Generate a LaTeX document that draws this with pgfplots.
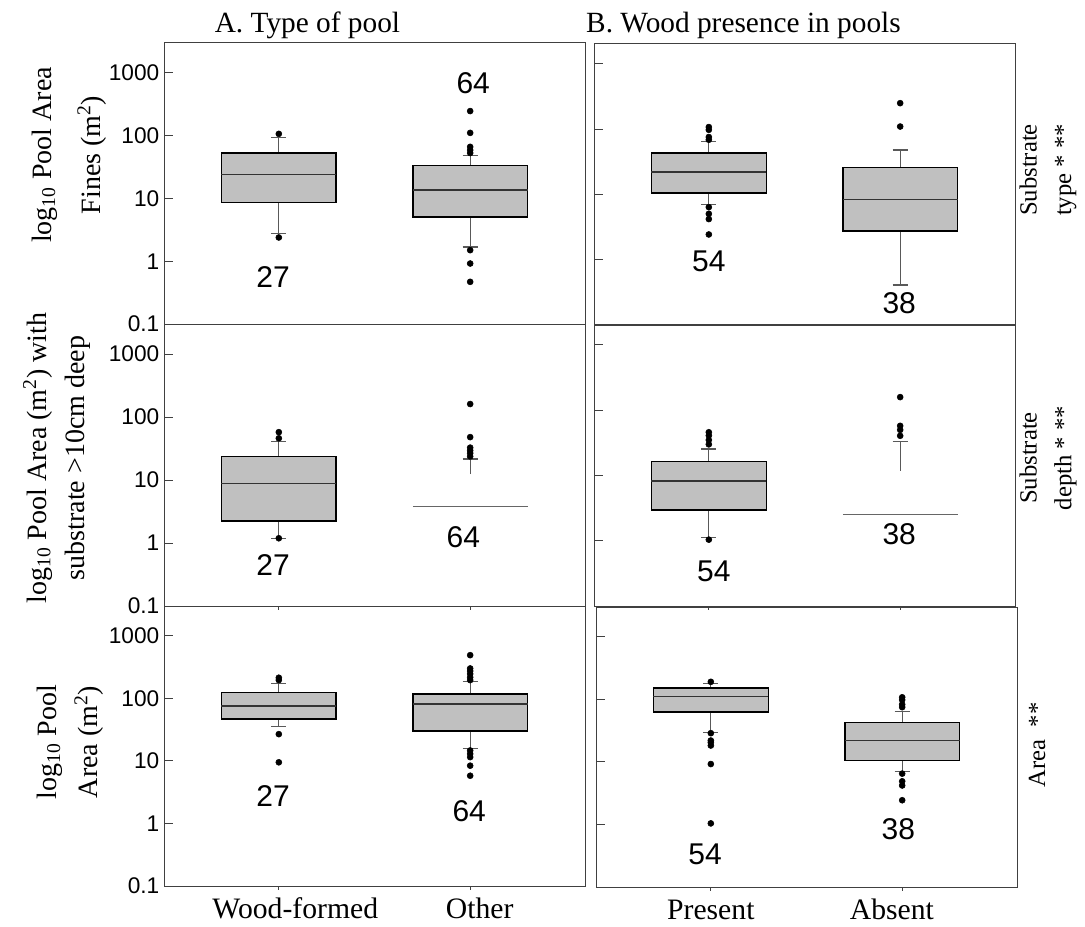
\documentclass[border=0pt]{standalone}
\usepackage{pgfplots}
\pgfplotsset{compat=1.18}
\usepgfplotslibrary{statistics}
\usepackage{fontspec}
\setmainfont{Liberation Serif}
\newfontfamily\sansf{Liberation Sans}
\definecolor{boxgray}{RGB}{192,192,192}
\pgfplotsset{
 every axis/.append style={
  scale only axis, width=315.75pt,
  ymin=0.1, ymax=3000, xmin=0.4, xmax=2.6,
  ytick={0.1,1,10,100,1000},
  yminorticks=false,
  tick align=inside, major tick length=6.75pt,
  ytick pos=left, xtick=\empty,
  axis line style={black!75, line width=0.75pt},
  every tick/.style={black!75, line width=0.75pt},
  clip=false,
 },
 boxplot/draw direction=y,
 boxplot/box extend=0.6,
 boxplot/whisker extend=0.08,
 boxplot/every box/.style={draw=black, fill=boxgray, line width=1.1pt},
 boxplot/every median/.style={draw=black!80, line width=1pt},
 boxplot/every whisker/.style={draw=black!65, line width=0.9pt},
 myleft/.style={yticklabels={0.1,1,10,100,1000}, yticklabel style={font=\sansf\fontsize{17}{19}\selectfont}},
 myright/.style={yticklabels={}},
 myout/.style={only marks, mark=*, mark size=2.25pt, black},
}
\tikzset{
 nlab/.style={font=\sansf\fontsize{22.5}{27}\selectfont},
 xlab/.style={anchor=base, font=\fontsize{22.25}{26}\selectfont},
 ylab/.style={rotate=90, align=center, font=\fontsize{21}{25}\selectfont},
 rlab/.style={rotate=90, align=center, font=\fontsize{18.5}{26}\selectfont},
 xt/.style={black!75, line width=0.75pt},
}
\begin{document}
\begin{tikzpicture}
\useasboundingbox (0,0) rectangle (813.75pt,694.5pt);
% ---------- Top left: fines, type of pool
\begin{axis}[ymode=log, myleft, at={(123pt,451.5pt)}, anchor=south west, height=210.75pt]
\addplot[boxplot prepared={draw position=1, lower whisker=2.77, lower quartile=8.6, median=24.2, upper quartile=53.4, upper whisker=94}] coordinates {};
\addplot[boxplot prepared={draw position=2, lower whisker=1.69, lower quartile=5.09, median=13.7, upper quartile=33.6, upper whisker=49}] coordinates {};
\addplot[myout] coordinates {(1,107) (1,2.39)};
\addplot[myout] coordinates {(2,247) (2,111) (2,66.5) (2,59) (2,53) (2,1.5) (2,0.92) (2,0.47)};
\node[nlab] at (axis cs:0.97,0.562) {27};
\node[nlab] at (axis cs:2.016,698) {64};
\end{axis}
% ---------- Top right: fines, wood presence
\begin{axis}[ymode=log, myright, at={(445.5pt,450.75pt)}, anchor=south west, height=210.75pt, ymax=2025]
\addplot[boxplot prepared={draw position=1, lower whisker=7.0, lower quartile=10.5, median=22, upper quartile=43, upper whisker=65}] coordinates {};
\addplot[boxplot prepared={draw position=2, lower whisker=0.41, lower quartile=2.75, median=8.3, upper quartile=25.9, upper whisker=48}] coordinates {};
\addplot[myout] coordinates {(1,108) (1,98) (1,76) (1,69) (1,6.4) (1,5.06) (1,4.2) (1,2.44)};
\addplot[myout] coordinates {(2,110) (2,251)};
\node[nlab] at (axis cs:1.0,0.94) {54};
\node[nlab] at (axis cs:1.995,0.217) {38};
\end{axis}
% ---------- Middle left: depth, type of pool
\begin{axis}[ymode=log, myleft, at={(123pt,240pt)}, anchor=south west, height=211.5pt]
\addplot[boxplot prepared={draw position=1, lower whisker=1.19, lower quartile=2.24, median=8.8, upper quartile=23.7, upper whisker=41}] coordinates {};
\addplot[black!60, line width=0.9pt] coordinates {(1.7,3.79) (2.3,3.79)};
\addplot[black!65, line width=0.9pt] coordinates {(2,12.4) (2,21.5)};
\addplot[black!65, line width=0.9pt] coordinates {(1.96,21.5) (2.04,21.5)};
\addplot[myout] coordinates {(1,57.5) (1,46) (1,1.19)};
\addplot[myout] coordinates {(2,161) (2,48) (2,32.7) (2,29.4) (2,26.6) (2,23.7)};
\node[nlab] at (axis cs:0.97,0.44) {27};
\node[nlab] at (axis cs:1.964,1.25) {64};
\draw[xt] (axis cs:1,0.1) -- ++(0pt,-3pt);
\draw[xt] (axis cs:2,0.1) -- ++(0pt,-3pt);
\end{axis}
% ---------- Middle right: depth, wood presence
\begin{axis}[ymode=log, myright, at={(445.5pt,240pt)}, anchor=south west, height=210.75pt, ymax=2025]
\addplot[boxplot prepared={draw position=1, lower whisker=1.12, lower quartile=2.98, median=8.2, upper quartile=16.4, upper whisker=25.4}] coordinates {};
\addplot[black!60, line width=0.9pt] coordinates {(1.7,2.5) (2.3,2.5)};
\addplot[black!65, line width=0.9pt] coordinates {(2,11.9) (2,33)};
\addplot[black!65, line width=0.9pt] coordinates {(1.96,33) (2.04,33)};
\addplot[myout] coordinates {(1,46) (1,41) (1,35) (1,30) (1,1.04)};
\addplot[myout] coordinates {(2,159) (2,57.7) (2,50) (2,40.6)};
\node[nlab] at (axis cs:1.026,0.339) {54};
\node[nlab] at (axis cs:1.995,1.24) {38};
\draw[xt] (axis cs:1,0.1) -- ++(0pt,-3pt);
\draw[xt] (axis cs:2,0.1) -- ++(0pt,-3pt);
\end{axis}
% ---------- Bottom left: area, type of pool
\begin{axis}[ymode=log, myleft, at={(123pt,30pt)}, anchor=south west, height=210pt]
\addplot[boxplot prepared={draw position=1, lower whisker=35.4, lower quartile=47, median=75.7, upper quartile=123, upper whisker=171}] coordinates {};
\addplot[boxplot prepared={draw position=2, lower whisker=15.8, lower quartile=30, median=81.5, upper quartile=117, upper whisker=185}] coordinates {};
\addplot[myout] coordinates {(1,214) (1,196) (1,26.8) (1,9.5)};
\addplot[myout] coordinates {(2,491) (2,301) (2,274) (2,246) (2,217) (2,196) (2,14.7) (2,13) (2,11.5) (2,8.4) (2,5.8)};
\node[nlab] at (axis cs:0.97,2.72) {27};
\node[nlab] at (axis cs:1.995,1.57) {64};
\draw[xt] (axis cs:1,0.1) -- ++(0pt,-3pt);
\draw[xt] (axis cs:2,0.1) -- ++(0pt,-3pt);
\node[xlab] at ([yshift=-24pt]axis cs:1.086,0.1) {Wood-formed};
\node[xlab] at ([yshift=-24pt]axis cs:2.05,0.1) {Other};
\end{axis}
% ---------- Bottom right: area, wood presence
\begin{axis}[ymode=log, myright, at={(447pt,29.25pt)}, anchor=south west, height=210pt]
\addplot[boxplot prepared={draw position=1, lower whisker=29.5, lower quartile=62.4, median=110, upper quartile=153, upper whisker=180}] coordinates {};
\addplot[boxplot prepared={draw position=2, lower whisker=7.0, lower quartile=10.5, median=22, upper quartile=42.6, upper whisker=63.7}] coordinates {};
\addplot[myout] coordinates {(1,191) (1,28.8) (1,22) (1,20.4) (1,18.3) (1,9.25) (1,1.04)};
\addplot[myout] coordinates {(2,108) (2,98) (2,83) (2,75) (2,6.5) (2,4.9) (2,4.2) (2,2.44)};
\node[nlab] at (axis cs:0.97,0.333) {54};
\node[nlab] at (axis cs:1.98,0.83) {38};
\draw[xt] (axis cs:1,0.1) -- ++(0pt,-3pt);
\draw[xt] (axis cs:2,0.1) -- ++(0pt,-3pt);
\node[xlab] at ([yshift=-24pt]axis cs:1.0,0.1) {Present};
\node[xlab] at ([yshift=-24pt]axis cs:1.946,0.1) {Absent};
\end{axis}
% ---------- titles and labels
\node[anchor=base, font=\fontsize{22}{26}\selectfont] at (230.6pt,669.75pt) {A. Type of pool};
\node[anchor=base, font=\fontsize{22}{26}\selectfont] at (557.6pt,669.75pt) {B. Wood presence in pools};
\node[ylab] at (51.75pt,578.25pt) {log\textsubscript{10} Pool Area\\[12pt]Fines (m\textsuperscript{2})};
\node[ylab] at (42.75pt,351pt) {log\textsubscript{10} Pool Area (m\textsuperscript{2}) with\\[4pt]substrate {>}10cm deep};
\node[ylab] at (52.5pt,138pt) {log\textsubscript{10} Pool\\[6pt]Area (m\textsuperscript{2})};
\node[rlab] at (786pt,567pt) {Substrate\\type * **};
\node[rlab] at (786pt,351pt) {Substrate\\depth * **};
\node[rlab] at (777.75pt,135.75pt) {Area \ **};
\end{tikzpicture}
\end{document}
